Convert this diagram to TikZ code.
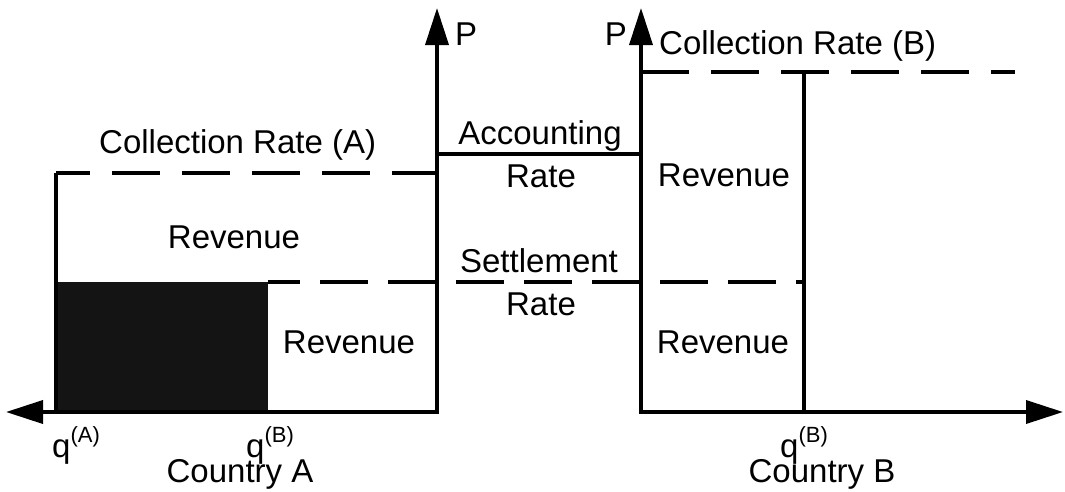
\documentclass[tikz,border=0pt]{standalone}
\usepackage{fontspec}
\setmainfont{Liberation Sans}
\usetikzlibrary{arrows.meta}
\newcommand{\supq}[1]{q\raisebox{15pt}{\fontsize{22}{22}\selectfont(#1)}}
\begin{document}
\begin{tikzpicture}[x=1pt,y=-1pt,
  lbl/.style={inner sep=0pt, font=\fontsize{33}{38}\selectfont},
  axisline/.style={line width=3.6pt, {Triangle[length=37pt,width=23pt]}-{Triangle[length=37pt,width=23pt]}},
  solidline/.style={line width=3.2pt},
  dashA/.style={line width=3.2pt, dash pattern=on 48pt off 22pt, dash phase=14pt},
  dashS/.style={line width=3.2pt, dash pattern=on 48pt off 20pt, dash phase=16pt},
  dashB/.style={line width=3.2pt, dash pattern=on 48pt off 22pt},
  shade/.style={fill=black!92, draw=none}]
\useasboundingbox (0,0) rectangle (1065,491);
% coordinates
\coordinate (leftEnd) at (6,412);
\coordinate (originA) at (437,412);
\coordinate (topA) at (437,8);
\coordinate (topB) at (641,8);
\coordinate (originB) at (641,412);
\coordinate (rightEnd) at (1063,412);
\coordinate (cAl) at (56,173);
\coordinate (cAr) at (437,173);
\coordinate (bAl) at (56,412);
\coordinate (sL) at (268,282);
\coordinate (sR) at (804,282);
\coordinate (accL) at (437,154);
\coordinate (accR) at (641,154);
\coordinate (cBl) at (641,72);
\coordinate (cBr) at (1015,72);
\coordinate (vBt) at (804,72);
\coordinate (vBb) at (804,412);
% shaded box
\fill[shade] (56,282) rectangle (268,412);
% lines
\draw[solidline] (bAl) -- (cAl);
\draw[dashA] (cAl) -- (cAr);
\draw[dashS] (sL) -- (sR);
\draw[solidline] (accL) -- (accR);
\draw[dashB] (cBl) -- (cBr);
\draw[solidline] (vBt) -- (vBb);
% axes
\draw[axisline] (leftEnd) -- (originA) -- (topA);
\draw[axisline] (topB) -- (originB) -- (rightEnd);
% labels
\node[lbl, anchor=base west] (pA) at (455,45) {P};
\node[lbl, anchor=base east] (pB) at (627,45) {P};
\node[lbl, anchor=base west] (crB) at (659,54) {Collection Rate (B)};
\node[lbl, anchor=base west] (crA) at (99,153) {Collection Rate (A)};
\node[lbl, anchor=base] (acc) at (540,144) {Accounting};
\node[lbl, anchor=base] (accr) at (541,187) {Rate};
\node[lbl, anchor=base] (set) at (539,272) {Settlement};
\node[lbl, anchor=base] (setr) at (541,315) {Rate};
\node[lbl, anchor=base] (revA1) at (234,248) {Revenue};
\node[lbl, anchor=base] (revA2) at (349,353) {Revenue};
\node[lbl, anchor=base] (revB1) at (724,186) {Revenue};
\node[lbl, anchor=base] (revB2) at (723,353) {Revenue};
\node[lbl, anchor=base west] (qA) at (52,457) {\supq{A}};
\node[lbl, anchor=base west] (qB) at (246,457) {\supq{B}};
\node[lbl, anchor=base west] (qB2) at (780,457) {\supq{B}};
\node[lbl, anchor=base] (ctyA) at (240,482) {Country A};
\node[lbl, anchor=base] (ctyB) at (822,482) {Country B};
\end{tikzpicture}
\end{document}
